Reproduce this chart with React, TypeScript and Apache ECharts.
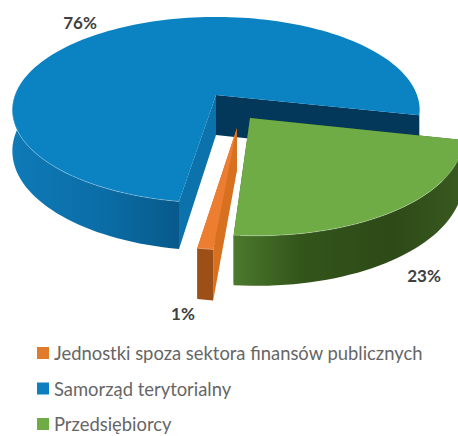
import React, { useEffect, useRef } from "react";
import * as echarts from "echarts";

const categories = ["Jednostki spoza sektora finansów publicznych", "Samorząd terytorialny", "Przedsiębiorcy"];
const shareValues = [1, 76, 23];

// Sweep order round the pie, clockwise from the start angle.
const sweepOrder = [2, 0, 1];
const startAngle = 10.5;
const angleShift = [3, 2, 2];
const explode: number[][] = [[0.0987, 0.344], [0, 0], [0.1626, 0.243]];
const labelPos: number[][] = [[183, 313], [80, 22], [424, 275]];
const drawOrder = [1, 0, 2];

const legendColors = ["#e07b2c", "#0e7fbe", "#6fac46"];
const topColors = ["#ed7d31", "#0b82c1", "#6fac46"];
const cutStartColors = ["#d8711f", "#0b72ac", "#33551b"];
const cutEndColors = ["#c96a20", "#03385a", "#33551b"];
const wallStops: [number, string][][] = [
  [[0, "#9c5018"], [1, "#9c5018"]],
  [[0, "#0e7ab7"], [0.55, "#0b6da6"], [1, "#075a8b"]],
  [[0, "#4b7b2d"], [0.3, "#33551b"], [0.7, "#2d4a17"], [1, "#39581f"]],
];
const wallX: number[][] = [[199, 216], [12, 177], [232, 458]];

// Projection of the tilted disc.
const X0 = 216, Y0 = 95, A = 90.6, B = 201, P = 0.161, DEPTH = 40;
const project = (u: number, v: number, h: number) => {
  const w = 1 - P * v;
  return [X0 + (B * u) / w, Y0 + (A * v + DEPTH * h) / w];
};

const total = shareValues.reduce((a, b) => a + b, 0);
const sliceAngles = (index: number) => {
  let a = startAngle;
  for (const i of sweepOrder) {
    const sweep = (shareValues[i] / total) * 360;
    if (i === index) return [a + angleShift[i], a + sweep + angleShift[i]];
    a += sweep;
  }
  return [0, 0];
};

const rimPoints = (i: number, from: number, to: number, h: number) => {
  const pts: number[][] = [];
  const steps = Math.max(2, Math.ceil(Math.abs(to - from) / 2));
  for (let s = 0; s <= steps; s++) {
    const t = ((from + ((to - from) * s) / steps) * Math.PI) / 180;
    pts.push(project(explode[i][0] + Math.cos(t), explode[i][1] + Math.sin(t), h));
  }
  return pts;
};

const makeRenderItem = (i: number) => () => {
  const [a0, a1] = sliceAngles(i);
  const cx = explode[i][0], cy = explode[i][1];
  const apexTop = project(cx, cy, 0);
  const apexLow = project(cx, cy, 1);
  const edge = (a: number, color: string) => ({
    type: "polygon",
    shape: { points: [apexTop, ...rimPoints(i, a, a, 0).slice(0, 1), ...rimPoints(i, a, a, 1).slice(0, 1), apexLow] },
    style: { fill: color },
  });
  // Only the near half of the rim shows a wall.
  const wFrom = Math.max(a0, 0);
  const wTo = Math.min(a1, 186);
  const wall = {
    type: "polygon",
    shape: { points: [...rimPoints(i, wFrom, wTo, 0), ...rimPoints(i, wFrom, wTo, 1).reverse()] },
    style: {
      fill: new echarts.graphic.LinearGradient(wallX[i][0], 0, wallX[i][1], 0, wallStops[i].map(([offset, color]) => ({ offset, color })), true),
    },
  };
  const top = {
    type: "polygon",
    shape: { points: [apexTop, ...rimPoints(i, a0, a1, 0)] },
    style: { fill: topColors[i] },
  };
  const rim = {
    type: "polyline",
    shape: { points: rimPoints(i, wFrom, wTo, 0) },
    style: { fill: "none", stroke: "rgba(255,255,255,0.28)", lineWidth: 1 },
  };
  const label = {
    type: "text",
    style: {
      text: `${shareValues[i]}%`,
      x: labelPos[i][0],
      y: labelPos[i][1],
      fill: "#404040",
      fontFamily: "Lato",
      fontWeight: "bold",
      fontSize: 17,
      align: "center",
      verticalAlign: "middle",
    },
  };
  return {
    type: "group",
    children: [edge(a1, cutEndColors[i]), edge(a0, cutStartColors[i]), wall, top, rim, label],
  };
};

export default function App() {
  const ref = useRef<HTMLDivElement>(null);
  useEffect(() => {
    const chart = echarts.init(ref.current!, undefined, { renderer: "svg" });
    chart.setOption({
      animation: false,
      backgroundColor: "#ffffff",
      legend: {
        orient: "vertical",
        left: 32,
        top: 339,
        width: 420,
        height: 130,
        data: categories,
        icon: "rect",
        itemWidth: 12,
        itemHeight: 12,
        itemGap: 17.5,
        selectedMode: false,
        textStyle: { fontFamily: "Lato", fontSize: 18.4, color: "#666666" },
      },
      series: drawOrder.map((i) => ({
        type: "custom",
        name: categories[i],
        coordinateSystem: "none",
        z: 2 + drawOrder.indexOf(i),
        silent: true,
        itemStyle: { color: legendColors[i] },
        data: [shareValues[i]],
        renderItem: makeRenderItem(i),
      })),
    });
    return () => chart.dispose();
  }, []);
  return <div ref={ref} style={{ position: "absolute", left: 0, top: 0, width: 458, height: 436 }} />;
}
